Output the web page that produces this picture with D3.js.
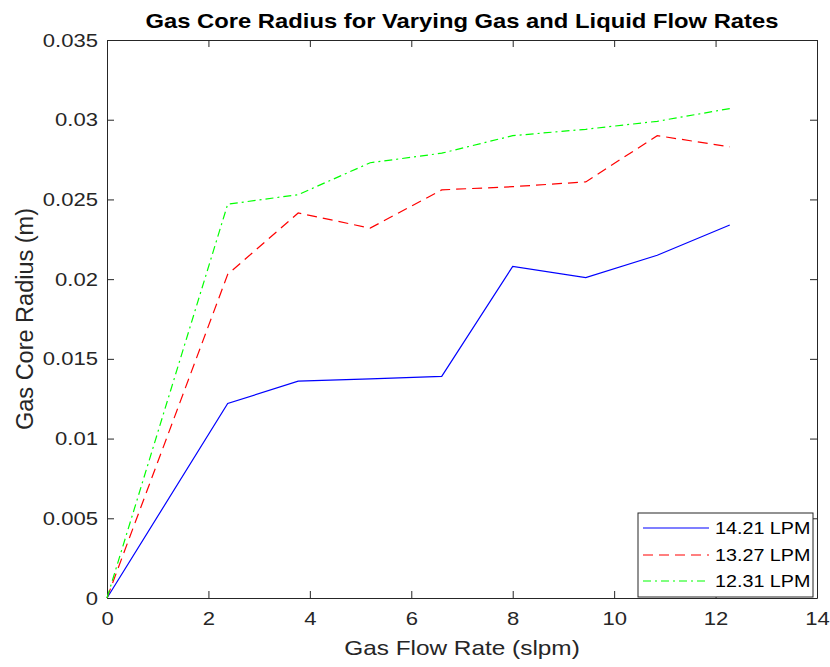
<!DOCTYPE html>
<html>
<head>
<meta charset="utf-8">
<script src="https://cdn.jsdelivr.net/npm/d3@7"></script>
<style>
  body { margin: 0; background: #fff; }
  text { font-family: "Liberation Sans", Arial, sans-serif; }
</style>
</head>
<body>
<div id="chart"></div>
<script>
// gas flow rate (slpm)
var gasFlow = [0, 2.38, 3.77, 5.19, 6.6, 8.0, 9.44, 10.85, 12.28];
// gas core radius (m) per liquid flow rate
var radius1421 = [0, 0.0122, 0.0136, 0.01375, 0.0139, 0.0208, 0.0201, 0.0215, 0.0234];
var radius1327 = [0, 0.0203, 0.02415, 0.0232, 0.0256, 0.0258, 0.0261, 0.0290, 0.0283];
var radius1231 = [0, 0.0247, 0.0253, 0.0273, 0.0279, 0.0290, 0.0294, 0.0299, 0.0307];
var seriesNames = ["14.21 LPM", "13.27 LPM", "12.31 LPM"];
var xTicks = [0, 2, 4, 6, 8, 10, 12, 14];
var yTicks = [0, 0.005, 0.01, 0.015, 0.02, 0.025, 0.03, 0.035];
var yTickLabels = ["0", "0.005", "0.01", "0.015", "0.02", "0.025", "0.03", "0.035"];

var width = 830, height = 667;
var margin = {top: 40, right: 13, bottom: 69, left: 107};
var S = 1.16; // horizontal stretch of the original figure's text

var svg = d3.select("#chart").append("svg")
    .attr("width", width)
    .attr("height", height);

var x = d3.scaleLinear().domain([0, 14]).range([margin.left, width - margin.right]);
var y = d3.scaleLinear().domain([0, 0.035]).range([height - margin.bottom, margin.top]);

function stretch(sel) {
    sel.each(function () {
        var len = this.getComputedTextLength();
        d3.select(this).attr("textLength", len * S).attr("lengthAdjust", "spacingAndGlyphs");
    });
}

var axisColor = "#262626";

// axes box + ticks
var xAxis = svg.append("g")
    .attr("transform", "translate(0," + y(0) + ")")
    .call(d3.axisBottom(x).tickValues(xTicks).tickSizeInner(-7).tickSizeOuter(0).tickPadding(14).tickFormat(d3.format("d")));
var yAxis = svg.append("g")
    .attr("transform", "translate(" + x(0) + ",0)")
    .call(d3.axisLeft(y).tickValues(yTicks).tickSizeInner(-7).tickSizeOuter(0).tickPadding(9)
        .tickFormat(function (d, i) { return yTickLabels[i]; }));
var xTop = svg.append("g")
    .attr("transform", "translate(0," + y(0.035) + ")")
    .call(d3.axisTop(x).tickValues(xTicks).tickSizeInner(-7).tickSizeOuter(0).tickFormat(""));
var yRight = svg.append("g")
    .attr("transform", "translate(" + x(14) + ",0)")
    .call(d3.axisRight(y).tickValues(yTicks).tickSizeInner(-7).tickSizeOuter(0).tickFormat(""));

[xAxis, yAxis, xTop, yRight].forEach(function (g) {
    g.select(".domain").attr("stroke", axisColor).attr("stroke-width", 1);
    g.selectAll(".tick line").attr("stroke", axisColor);
    g.selectAll(".tick text").attr("fill", axisColor).style("font-size", "19px");
});
xAxis.selectAll(".tick text").attr("dy", "0.71em");
stretch(xAxis.selectAll(".tick text"));
stretch(yAxis.selectAll(".tick text"));

// lines
var line = d3.line()
    .x(function (d, i) { return x(gasFlow[i]); })
    .y(function (d) { return y(d); });

var series = [
    {name: seriesNames[0], values: radius1421, color: "#0000ff", dash: null},
    {name: seriesNames[1], values: radius1327, color: "#ff0000", dash: "10,6"},
    {name: seriesNames[2], values: radius1231, color: "#00ff00", dash: "8,4,2,4"}
];

svg.selectAll(".series")
    .data(series)
    .enter().append("path")
    .attr("class", "series")
    .attr("d", function (d) { return line(d.values); })
    .attr("fill", "none")
    .attr("stroke", function (d) { return d.color; })
    .attr("stroke-width", 1.2)
    .attr("stroke-dasharray", function (d) { return d.dash; });

// title and labels
var title = svg.append("text")
    .attr("x", (x(0) + x(14)) / 2)
    .attr("y", 28)
    .attr("text-anchor", "middle")
    .style("font-size", "20.5px")
    .style("font-weight", "bold")
    .attr("fill", "#000")
    .text("Gas Core Radius for Varying Gas and Liquid Flow Rates");
stretch(title);

var xLabel = svg.append("text")
    .attr("x", (x(0) + x(14)) / 2)
    .attr("y", 655)
    .attr("text-anchor", "middle")
    .style("font-size", "21px")
    .attr("fill", axisColor)
    .text("Gas Flow Rate (slpm)");
stretch(xLabel);

svg.append("text")
    .attr("transform", "translate(33," + (y(0) + y(0.035)) / 2 + ") rotate(-90)")
    .attr("text-anchor", "middle")
    .style("font-size", "23.5px")
    .attr("fill", axisColor)
    .text("Gas Core Radius (m)");

// legend
var legend = svg.append("g");
legend.append("rect")
    .attr("x", 638).attr("y", 513)
    .attr("width", 175).attr("height", 84)
    .attr("fill", "#fff")
    .attr("stroke", axisColor)
    .attr("stroke-width", 1);

var rows = legend.selectAll(".row")
    .data(series)
    .enter().append("g")
    .attr("transform", function (d, i) { return "translate(0," + [528, 555, 581][i] + ")"; });
rows.append("line")
    .attr("x1", 643).attr("x2", 709)
    .attr("stroke", function (d) { return d.color; })
    .attr("stroke-width", 1.2)
    .attr("stroke-dasharray", function (d) { return d.dash; });
var legText = rows.append("text")
    .attr("x", 715)
    .attr("dy", "0.36em")
    .style("font-size", "17px")
    .attr("fill", "#000")
    .text(function (d) { return d.name; });
stretch(legText);
</script>
</body>
</html>
